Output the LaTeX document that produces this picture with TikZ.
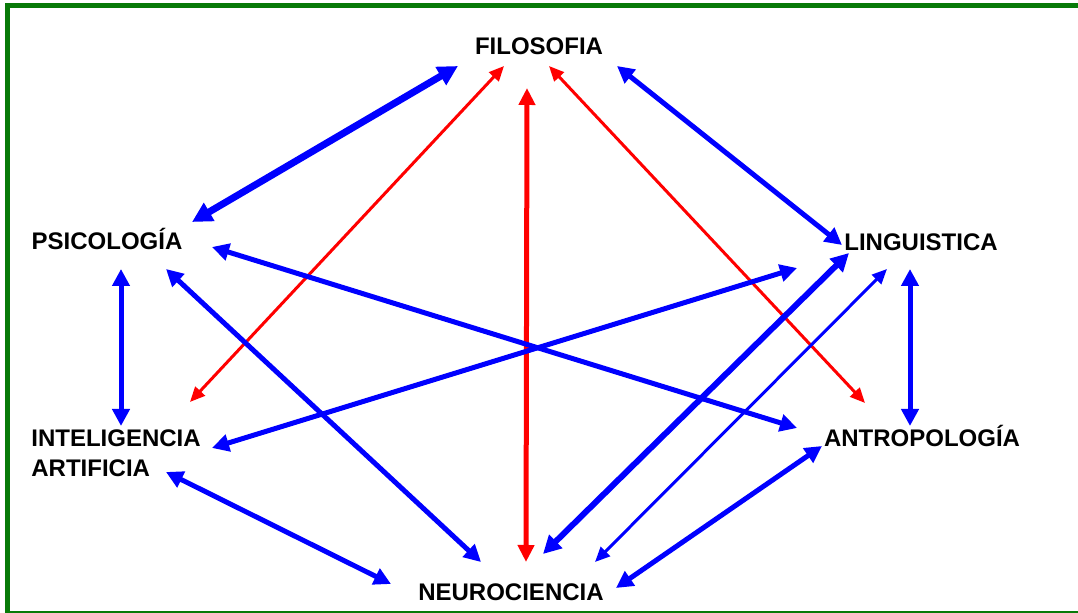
\documentclass[tikz,border=0pt]{standalone}
\usepackage{fontspec}
\setmainfont{Liberation Sans}
\usepackage{tikz}
\usetikzlibrary{arrows.meta}
\definecolor{marco}{rgb}{0.03,0.48,0.03}
\tikzset{
    %Define style for the subject names
    campo/.style={
           font=\fontsize{12}{15}\selectfont\bfseries,
           align=left,
           inner sep=0pt},
    % Define arrow styles
    gruesa/.style={
           draw=blue, line width=3.5pt,
           {Triangle[length=10pt,width=10pt]}-{Triangle[length=10pt,width=10pt]}},
    media/.style={
           draw=blue, line width=3pt,
           {Triangle[length=9pt,width=9pt]}-{Triangle[length=9pt,width=9pt]}},
    azul/.style={
           draw=blue, line width=2.5pt,
           {Triangle[length=8.5pt,width=8.5pt]}-{Triangle[length=8.5pt,width=8.5pt]}},
    fina/.style={
           draw=blue, line width=1.5pt,
           {Triangle[length=7.5pt,width=6.5pt]}-{Triangle[length=7.5pt,width=6.5pt]}},
    roja/.style={
           draw=red, line width=1.5pt,
           {Triangle[length=7.5pt,width=6.5pt]}-{Triangle[length=7.5pt,width=6.5pt]}},
    rojagruesa/.style={
           draw=red, line width=2.5pt,
           {Triangle[length=8.5pt,width=8pt]}-{Triangle[length=8.5pt,width=8pt]}}
}

\begin{document}
\begin{tikzpicture}[x=0.5pt,y=-0.5pt]
\useasboundingbox (0,0) rectangle (1078,613);
% frame
\draw[marco,line width=2.5pt] (1078,5.5) -- (7.5,5.5) -- (7.5,613);
\draw[marco,line width=0.6pt] (7.5,612) -- (1078,612);
% subjects
\node[campo,anchor=base] (fil) at (539,55) {FILOSOFIA};
\node[campo,anchor=base] (psi) at (107,250) {PSICOLOGÍA};
\node[campo,anchor=base] (lin) at (921,251) {LINGUISTICA};
\node[campo,anchor=west] (ia) at (31,453.5) {INTELIGENCIA\\ARTIFICIA};
\node[campo,anchor=base] (ant) at (922,447) {ANTROPOLOGÍA};
\node[campo,anchor=base] (neu) at (511,601) {NEUROCIENCIA};
% links
\draw[gruesa] ([shift={(-81,11)}]fil.base) -- ([shift={(85,-28)}]psi.base);
\draw[roja] ([shift={(-35,11)}]fil.base) -- ([shift={(159,-51.5)}]ia.west);
\draw[rojagruesa] ([shift={(-12,33)}]fil.base) -- ([shift={(15,-39)}]neu.base);
\draw[roja] ([shift={(10,11)}]fil.base) -- ([shift={(-57,-44)}]ant.base);
\draw[azul] ([shift={(78,11)}]fil.base) -- ([shift={(-79,-6)}]lin.base);
\draw[azul] ([shift={(14,19)}]psi.base) -- ([shift={(90,-27.5)}]ia.west);
\draw[azul] ([shift={(105,-3)}]psi.base) -- ([shift={(-125,-19)}]ant.base);
\draw[azul] ([shift={(59,19)}]psi.base) -- ([shift={(-30,-39)}]neu.base);
\draw[azul] ([shift={(-124,17)}]lin.base) -- ([shift={(181,-5.5)}]ia.west);
\draw[media] ([shift={(-72,2)}]lin.base) -- ([shift={(32,-47)}]neu.base);
\draw[fina] ([shift={(-34,18)}]lin.base) -- ([shift={(84,-39)}]neu.base);
\draw[azul] ([shift={(-11,18)}]lin.base) -- ([shift={(-12,-21)}]ant.base);
\draw[azul] ([shift={(-100,-1)}]ant.base) -- ([shift={(105,-13)}]neu.base);
\draw[azul] ([shift={(135,18.5)}]ia.west) -- ([shift={(-120,-17)}]neu.base);
\end{tikzpicture}
\end{document}
